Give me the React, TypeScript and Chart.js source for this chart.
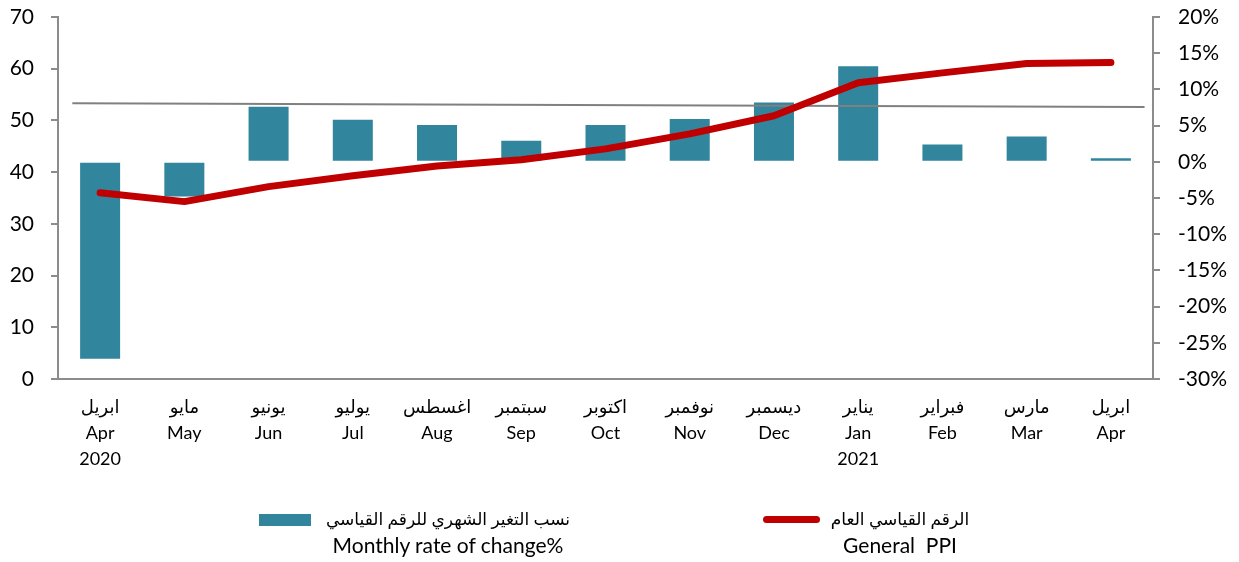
import React, { useEffect, useRef } from "react";
import { Chart, registerables } from "chart.js";

Chart.register(...registerables);

const arabicMonths = ["ابريل", "مايو", "يونيو", "يوليو", "اغسطس", "سبتمبر", "اكتوبر", "نوفمبر", "ديسمبر", "يناير", "فبراير", "مارس", "ابريل"];
const englishMonths = ["Apr", "May", "Jun", "Jul", "Aug", "Sep", "Oct", "Nov", "Dec", "Jan", "Feb", "Mar", "Apr"];
const yearLabels = ["2020", "", "", "", "", "", "", "", "", "2021", "", "", ""];

const monthlyChange = [-27.2, -4.8, 7.6, 5.8, 5.1, 2.9, 5.1, 5.9, 8.2, 13.2, 2.4, 3.5, 0.5];
const generalPPI = [36.0, 34.3, 37.2, 39.3, 41.2, 42.4, 44.5, 47.4, 50.9, 57.3, 59.2, 61.0, 61.2];
const trendX = [-0.33, 12.4];
const trendY = [53.3, 52.6];

const leftTicks = [0, 10, 20, 30, 40, 50, 60, 70];
const rightTicks = [-30, -25, -20, -15, -10, -5, 0, 5, 10, 15, 20];

const legendBarAr = "نسب التغير الشهري للرقم القياسي";
const legendBarEn = "Monthly rate of change%";
const legendLineAr = "الرقم القياسي العام";
const legendLineEn = "General  PPI";

const TEAL = "#31859c";
const RED = "#c00000";
const AXIS = "#8c8c8c";
const FONT = "Lato, 'DejaVu Sans', sans-serif";

export default function App() {
  const ref = useRef<HTMLCanvasElement | null>(null);

  useEffect(() => {
    document.body.style.margin = "0";
    const labels = englishMonths.map((m, i) =>
      yearLabels[i] ? [arabicMonths[i], m, yearLabels[i]] : [arabicMonths[i], m]
    );
    const chart = new Chart(ref.current as HTMLCanvasElement, {
      type: "bar",
      data: {
        labels,
        datasets: [
          {
            type: "bar",
            label: legendBarEn,
            data: monthlyChange,
            backgroundColor: TEAL,
            yAxisID: "yR",
            xAxisID: "x",
            grouped: false,
            categoryPercentage: 1,
            barPercentage: 0.475,
            order: 3,
          },
          {
            type: "line",
            label: "trend",
            data: trendX.map((x, i) => ({ x, y: trendY[i] })),
            borderColor: "#808080",
            borderWidth: 2,
            pointRadius: 0,
            yAxisID: "y",
            xAxisID: "xt",
            order: 2,
          },
          {
            type: "line",
            label: legendLineEn,
            data: generalPPI,
            borderColor: RED,
            borderWidth: 7,
            borderCapStyle: "round",
            borderJoinStyle: "round",
            pointRadius: 0,
            tension: 0,
            yAxisID: "y",
            xAxisID: "x",
            order: 1,
          },
        ] as any,
      },
      options: {
        responsive: false,
        animation: false,
        layout: { padding: { top: 17, bottom: 0, left: 0, right: 0 } },
        plugins: { legend: { display: false }, tooltip: { enabled: false } },
        scales: {
          x: {
            type: "category",
            offset: true,
            grid: { display: true, drawOnChartArea: false, drawTicks: false },
            border: { display: true, color: AXIS, width: 2 },
            ticks: {
              color: "#000",
              font: { family: FONT, size: 18, lineHeight: 1.45 },
              padding: 15,
              maxRotation: 0,
              autoSkip: false,
            },
            afterFit: (s: any) => {
              s.height = 183;
              s.paddingLeft = 0;
              s.paddingRight = 0;
            },
          },
          xt: {
            type: "linear",
            position: "bottom",
            display: true,
            offset: false,
            min: -0.5,
            max: 12.5,
            grid: { display: false },
            border: { display: false },
            ticks: { display: false },
            afterFit: (s: any) => {
              s.height = 0;
            },
          },
          y: {
            type: "linear",
            position: "left",
            min: 0,
            max: 70,
            afterBuildTicks: (s: any) => {
              s.ticks = leftTicks.map((v) => ({ value: v }));
            },
            grid: { drawOnChartArea: false, drawTicks: true, tickLength: 7, color: AXIS, lineWidth: 2 },
            border: { display: true, color: AXIS, width: 2 },
            ticks: { color: "#000", font: { family: FONT, size: 21 }, padding: 17 },
            afterFit: (s: any) => {
              s.width = 58;
              s.paddingTop = 0;
              s.paddingBottom = 0;
            },
          },
          yR: {
            type: "linear",
            position: "right",
            min: -30,
            max: 20,
            afterBuildTicks: (s: any) => {
              s.ticks = rightTicks.map((v) => ({ value: v }));
            },
            grid: { drawOnChartArea: false, drawTicks: true, tickLength: 7, color: AXIS, lineWidth: 2 },
            border: { display: true, color: AXIS, width: 2 },
            ticks: {
              color: "#000",
              font: { family: FONT, size: 21 },
              padding: 18,
              callback: (v: any) => v + "%",
            },
            afterFit: (s: any) => {
              s.width = 86;
              s.paddingTop = 0;
              s.paddingBottom = 0;
            },
          },
        },
      } as any,
    });
    return () => chart.destroy();
  }, []);

  const blockStyle: React.CSSProperties = {
    position: "absolute",
    textAlign: "center",
    fontFamily: FONT,
    color: "#000",
    whiteSpace: "nowrap",
  };
  const arStyle: React.CSSProperties = { fontSize: 17, lineHeight: "26px" };
  const enStyle: React.CSSProperties = { fontSize: 21, lineHeight: "26px", whiteSpace: "pre" };

  return (
    <div style={{ position: "relative", width: 1239, height: 562 }}>
      <canvas ref={ref} width={1239} height={562} style={{ display: "block" }} />
      <div style={{ position: "absolute", left: 259, top: 514, width: 52, height: 12, background: TEAL }} />
      <div style={{ ...blockStyle, left: 298, top: 506, width: 300 }}>
        <div dir="rtl" style={arStyle}>{legendBarAr}</div>
        <div style={enStyle}>{legendBarEn}</div>
      </div>
      <div
        style={{ position: "absolute", left: 763, top: 516, width: 57, height: 7, background: RED, borderRadius: 4 }}
      />
      <div style={{ ...blockStyle, left: 800, top: 506, width: 200 }}>
        <div dir="rtl" style={arStyle}>{legendLineAr}</div>
        <div style={enStyle}>{legendLineEn}</div>
      </div>
    </div>
  );
}
